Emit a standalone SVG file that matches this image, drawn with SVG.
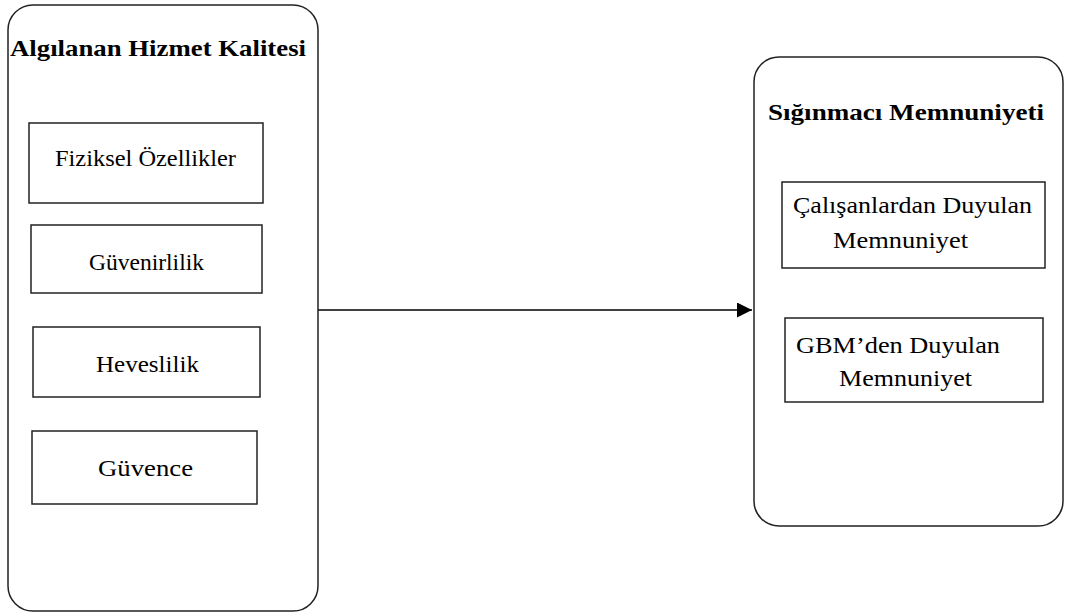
<svg xmlns="http://www.w3.org/2000/svg" width="1065" height="613" viewBox="0 0 1065 613">
  <style>
    .outer { fill: #fff; stroke: #222; stroke-width: 1.5; }
    .inner { fill: #fff; stroke: #222; stroke-width: 1.5; }
    .title { font-family: "Liberation Serif", "Times New Roman", serif; font-weight: bold; font-size: 23px; fill: #000; }
    .label { font-family: "Liberation Serif", "Times New Roman", serif; font-size: 24px; fill: #000; }
    .link { stroke: #000; stroke-width: 1.3; fill: none; }
  </style>
  <defs>
    <marker id="arrow" viewBox="0 0 10 10" refX="10" refY="5" markerWidth="15" markerHeight="15" markerUnits="userSpaceOnUse" orient="auto">
      <path d="M0,0 L10,5 L0,10 Z" fill="#000"/>
    </marker>
  </defs>
  <rect width="1065" height="613" fill="#fff"/>

  <g id="connectors">
    <line class="link" x1="318" y1="310" x2="752" y2="310" marker-end="url(#arrow)"/>
  </g>

  <g id="algilanan-hizmet-kalitesi">
    <rect class="outer" x="8" y="5" width="310" height="606" rx="25" ry="25"/>
    <text class="title" x="10" y="56" textLength="296" lengthAdjust="spacingAndGlyphs">Algılanan Hizmet Kalitesi</text>
  </g>

  <g id="fiziksel-ozellikler">
    <rect class="inner" x="29" y="123" width="234" height="80"/>
    <text class="label" x="55" y="166" textLength="181" lengthAdjust="spacingAndGlyphs">Fiziksel Özellikler</text>
  </g>

  <g id="guvenirlilik">
    <rect class="inner" x="31" y="225" width="231" height="68"/>
    <text class="label" x="89" y="270" textLength="115" lengthAdjust="spacingAndGlyphs">Güvenirlilik</text>
  </g>

  <g id="heveslilik">
    <rect class="inner" x="33" y="327" width="227" height="70"/>
    <text class="label" x="96" y="372" textLength="103" lengthAdjust="spacingAndGlyphs">Heveslilik</text>
  </g>

  <g id="guvence">
    <rect class="inner" x="32" y="431" width="225" height="73"/>
    <text class="label" x="98" y="476" textLength="95" lengthAdjust="spacingAndGlyphs">Güvence</text>
  </g>

  <g id="siginmaci-memnuniyeti">
    <rect class="outer" x="754" y="57" width="309" height="469" rx="25" ry="25"/>
    <text class="title" x="768" y="120" textLength="276" lengthAdjust="spacingAndGlyphs">Sığınmacı Memnuniyeti</text>
  </g>

  <g id="calisanlardan-duyulan-memnuniyet">
    <rect class="inner" x="782" y="182" width="263" height="86"/>
    <text class="label" x="793" y="213" textLength="239" lengthAdjust="spacingAndGlyphs">Çalışanlardan Duyulan</text>
    <text class="label" x="833" y="248" textLength="135" lengthAdjust="spacingAndGlyphs">Memnuniyet</text>
  </g>

  <g id="gbm-den-duyulan-memnuniyet">
    <rect class="inner" x="785" y="318" width="258" height="84"/>
    <text class="label" x="796" y="353" textLength="204" lengthAdjust="spacingAndGlyphs">GBM’den Duyulan</text>
    <text class="label" x="839" y="386" textLength="133" lengthAdjust="spacingAndGlyphs">Memnuniyet</text>
  </g>
</svg>
